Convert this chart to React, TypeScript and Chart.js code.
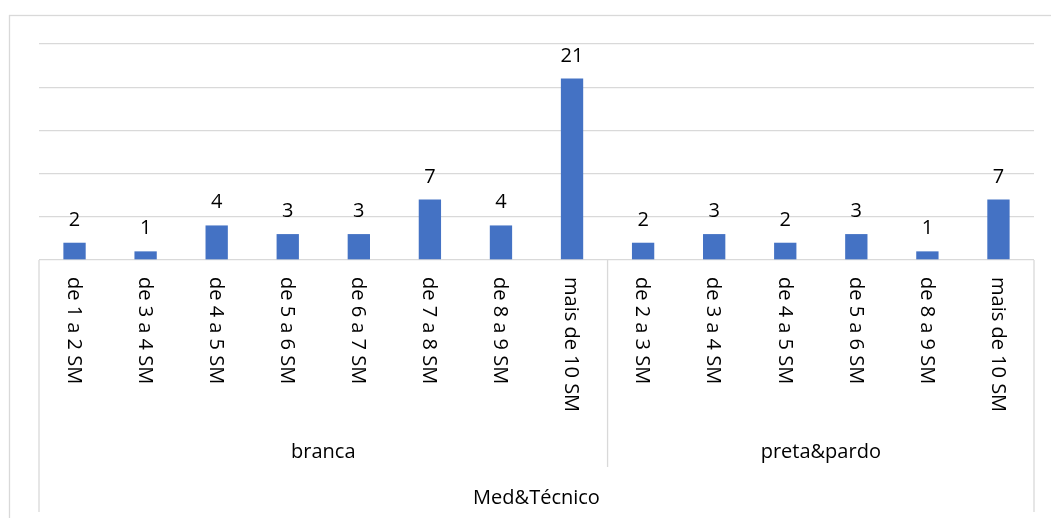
import React, { useEffect, useRef } from "react";
import { Chart, registerables } from "chart.js";

Chart.register(...registerables);

// Income bands (salários mínimos) per group
const bandLabels: string[] = [
  "de 1 a 2 SM",
  "de 3 a 4 SM",
  "de 4 a 5 SM",
  "de 5 a 6 SM",
  "de 6 a 7 SM",
  "de 7 a 8 SM",
  "de 8 a 9 SM",
  "mais de 10 SM",
  "de 2 a 3 SM",
  "de 3 a 4 SM",
  "de 4 a 5 SM",
  "de 5 a 6 SM",
  "de 8 a 9 SM",
  "mais de 10 SM",
];

const counts: number[] = [2, 1, 4, 3, 3, 7, 4, 21, 2, 3, 2, 3, 1, 7];

// Second level: race groups and how many bands each spans
const groupNames: string[] = ["branca", "preta&pardo"];
const groupSizes: number[] = [8, 6];

// Third level
const topCategory = "Med&Técnico";

const yTicks = { min: 0, max: 25, step: 5 };

const FONT = "20px 'Open Sans'";
const LINE = "#d9d9d9";
const BAR = "#4472c4";

const axisPlugin = {
  id: "multiLevelAxis",
  beforeDraw(chart: any) {
    const { ctx } = chart;
    ctx.save();
    ctx.strokeStyle = LINE;
    ctx.lineWidth = 1.3;
    ctx.strokeRect(9.5, 15.5, 1200, 700);
    ctx.restore();
  },
  afterDraw(chart: any) {
    const { ctx, chartArea } = chart;
    const x = chart.scales.x;
    const meta = chart.getDatasetMeta(0);
    const base = chartArea.bottom;
    ctx.save();

    // value labels above bars
    ctx.fillStyle = "#000";
    ctx.font = FONT;
    ctx.textAlign = "center";
    ctx.textBaseline = "alphabetic";
    meta.data.forEach((bar: any, i: number) => {
      ctx.fillText(String(counts[i]), bar.x, bar.y - 17);
    });

    // axis frame lines
    ctx.strokeStyle = LINE;
    ctx.lineWidth = 1.3;
    const bottomAll = base + 252;
    const bottomGroup = base + 207;
    ctx.beginPath();
    ctx.moveTo(chartArea.left, base);
    ctx.lineTo(chartArea.left, bottomAll);
    ctx.moveTo(chartArea.right, base);
    ctx.lineTo(chartArea.right, bottomAll);
    let start = 0;
    const bounds: number[][] = [];
    groupSizes.forEach((n, g) => {
      const end = start + n - 1;
      const l = start === 0 ? chartArea.left : (x.getPixelForValue(start - 1) + x.getPixelForValue(start)) / 2;
      const r = end === counts.length - 1 ? chartArea.right : (x.getPixelForValue(end) + x.getPixelForValue(end + 1)) / 2;
      bounds.push([l, r]);
      if (g > 0) {
        ctx.moveTo(l, base);
        ctx.lineTo(l, bottomGroup);
      }
      start += n;
    });
    ctx.stroke();

    // rotated band labels
    ctx.textAlign = "left";
    ctx.textBaseline = "middle";
    bandLabels.forEach((lab, i) => {
      const px = x.getPixelForValue(i);
      ctx.save();
      ctx.translate(px - 1, base + 17);
      ctx.rotate(Math.PI / 2);
      ctx.fillText(lab, 0, 0);
      ctx.restore();
    });

    // group labels
    ctx.textAlign = "center";
    groupNames.forEach((name, g) => {
      const [l, r] = bounds[g];
      ctx.fillText(name, (l + r) / 2, base + 192);
    });
    ctx.fillText(topCategory, (chartArea.left + chartArea.right) / 2, base + 238);
    ctx.restore();
  },
};

export default function App() {
  const ref = useRef<HTMLCanvasElement | null>(null);

  useEffect(() => {
    if (!ref.current) return;
    const chart = new Chart(ref.current, {
      type: "bar",
      data: {
        labels: bandLabels,
        datasets: [
          {
            data: counts,
            backgroundColor: BAR,
            barPercentage: 0.314,
            categoryPercentage: 1,
          },
        ],
      },
      options: {
        animation: false,
        responsive: true,
        maintainAspectRatio: false,
        layout: { padding: { left: 39, right: 17, top: 44, bottom: 258 } },
        plugins: { legend: { display: false }, tooltip: { enabled: false } },
        scales: {
          x: { display: false },
          y: {
            min: yTicks.min,
            max: yTicks.max,
            ticks: { display: false, stepSize: yTicks.step },
            grid: { color: LINE, lineWidth: 1.3, drawTicks: false },
            border: { display: false },
            afterFit: (scale: any) => {
              scale.width = 0;
            },
          },
        },
      },
      plugins: [axisPlugin],
    });
    return () => chart.destroy();
  }, []);

  return (
    <div style={{ position: "fixed", left: 0, top: 0, width: 1051, height: 518, background: "#fff" }}>
      <canvas ref={ref} />
    </div>
  );
}
